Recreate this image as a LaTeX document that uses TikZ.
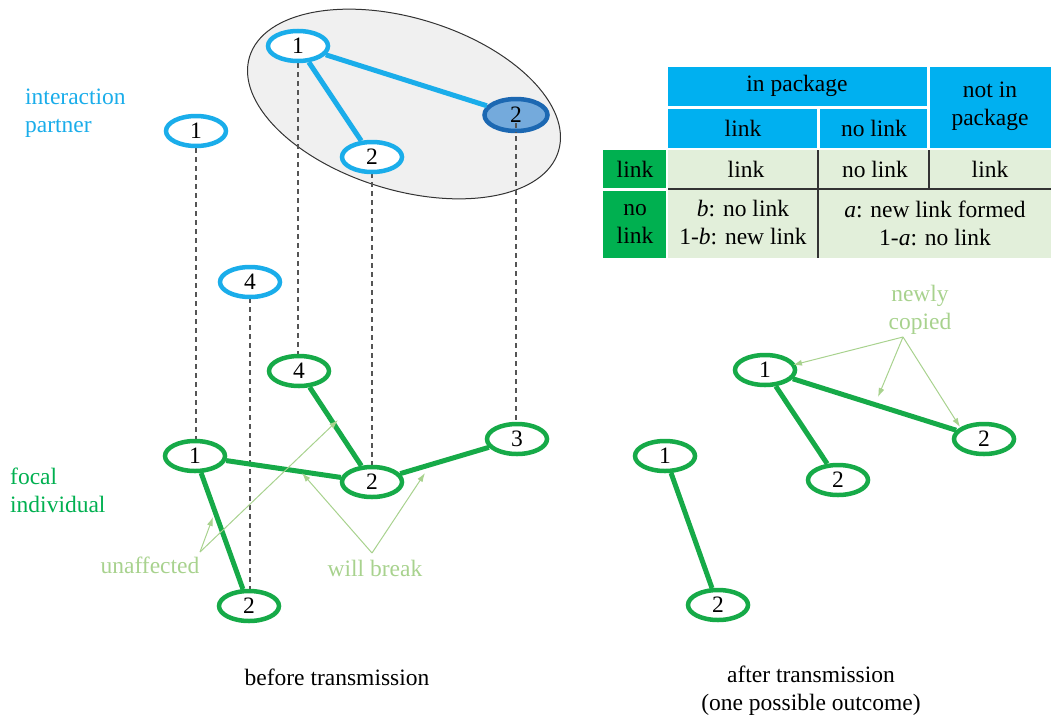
\documentclass[tikz,border=0pt]{standalone}
\usepackage{fontspec}
\setmainfont{Liberation Serif}
\usetikzlibrary{shapes.geometric,arrows.meta}
\definecolor{pblue}{RGB}{26,173,234}
\definecolor{dblue}{RGB}{28,104,178}
\definecolor{mblue}{RGB}{116,170,220}
\definecolor{hblue}{RGB}{0,176,240}
\definecolor{fgreen}{RGB}{22,170,72}
\definecolor{hgreen}{RGB}{0,176,80}
\definecolor{lgreen}{RGB}{168,210,142}
\definecolor{bodyg}{RGB}{226,239,218}
\definecolor{dgray}{RGB}{85,85,85}
\begin{document}
\begin{tikzpicture}[x=1pt,y=-1pt,
  every node/.style={font=\fontsize{23.5}{28}\selectfont},
  pnode/.style={ellipse,draw=pblue,line width=4.5pt,fill=white,minimum width=60pt,minimum height=30pt,inner sep=0pt},
  fnode/.style={ellipse,draw=fgreen,line width=4.5pt,fill=white,minimum width=60pt,minimum height=30pt,inner sep=0pt},
  pedge/.style={draw=pblue,line width=5pt},
  fedge/.style={draw=fgreen,line width=5pt},
  vdash/.style={draw=dgray,line width=1.4pt,dash pattern=on 5pt off 4pt},
  note/.style={draw=lgreen,line width=1pt,-{Latex[length=9pt,width=6pt]}},
  cell/.style={inner sep=0pt,align=center},
  tline/.style={draw=black!80,line width=1.4pt}]
\useasboundingbox (0,0) rectangle (1051,720);

% package ellipse
\node[ellipse,draw=black!80,line width=1pt,fill=black!6,minimum width=323pt,minimum height=172pt,rotate=-17,inner sep=0pt] (pkg) at (404,104) {};

% dashed vertical projections (drawn first)
\coordinate (d1a) at (196,148); \coordinate (d1b) at (196,440);
\coordinate (d4a) at (250,298); \coordinate (d4b) at (250,590);
\coordinate (dta) at (298,63); \coordinate (dtb) at (298,355);
\coordinate (dma) at (372,173); \coordinate (dmb) at (372,466);
\coordinate (dda) at (516,118); \coordinate (ddb) at (516,423);
\draw[vdash] (d1a) -- (d1b);
\draw[vdash] (d4a) -- (d4b);
\draw[vdash] (dta) -- (dtb);
\draw[vdash] (dma) -- (dmb);
\draw[vdash] (dda) -- (ddb);

% interaction partner nodes
\node[pnode] (p1) at (196,131) {1};
\node[pnode] (p4) at (250,282) {4};
\node[pnode] (pt1) at (298,46) {1};
\node[pnode] (pm2) at (372,157) {2};
\node[ellipse,draw=dblue,fill=mblue,line width=4.5pt,minimum width=63pt,minimum height=32pt,inner sep=0pt] (pd2) at (516,115) {2};
\draw[pedge] (pt1) -- (pm2);
\draw[pedge] (pt1) -- (pd2);
\coordinate (ddi) at (516,123); \coordinate (ddo) at (516,133);
\draw[vdash] (ddi) -- (ddo);

% focal individual nodes
\node[fnode] (f4) at (299,371) {4};
\node[fnode] (f1) at (195,456) {1};
\node[fnode] (f2) at (372,482) {2};
\node[fnode] (f3) at (517,439) {3};
\node[fnode] (f2b) at (249,606) {2};
\draw[fedge] (f4) -- (f2);
\draw[fedge] (f1) -- (f2);
\draw[fedge] (f2) -- (f3);
\draw[fedge] (f1) -- (f2b);

% after transmission
\node[fnode] (a1) at (765,370) {1};
\node[fnode] (a2) at (838,480) {2};
\node[fnode] (a2r) at (984,439) {2};
\node[fnode] (b1) at (665,456) {1};
\node[fnode] (b2) at (718,605) {2};
\draw[fedge] (a1) -- (a2);
\draw[fedge] (a1) -- (a2r);
\draw[fedge] (b1) -- (b2);

% side labels
\node[anchor=west,align=left,text=pblue,inner sep=0pt] (lip) at (25,113) {interaction\\partner};
\node[anchor=west,align=left,text=hgreen,inner sep=0pt] (lfi) at (10,490) {focal\\individual};

% annotations
\node[text=lgreen,inner sep=0pt] (unaff) at (150,565) {unaffected};
\node[text=lgreen,inner sep=0pt] (wbreak) at (375,568) {will break};
\node[text=lgreen,align=center,inner sep=0pt] (newly) at (920,310) {newly\\copied};
\coordinate (ua) at (200,552);
\coordinate (wa) at (372,553);
\coordinate (na) at (903,337);
\coordinate (ut1) at (213,517);
\coordinate (ut2) at (338,420);
\coordinate (wt1) at (302,473);
\coordinate (wt2) at (425,473);
\coordinate (nt1) at (793,365);
\coordinate (nt2) at (878,397);
\coordinate (nt3) at (960,427);
\draw[note] (ua) -- (ut1);
\draw[note] (ua) -- (ut2);
\draw[note] (wa) -- (wt1);
\draw[note] (wa) -- (wt2);
\draw[note] (na) -- (nt1);
\draw[note] (na) -- (nt2);
\draw[note] (na) -- (nt3);

% captions
\node (cap1) at (337,677) {before transmission};
\node[align=center] (cap2) at (811,691) {after transmission\\(one possible outcome)};

% table
\fill[hblue] (668,67) rectangle (927,106);
\fill[hblue] (930,67) rectangle (1051,148);
\fill[hblue] (668,109) rectangle (817,148);
\fill[hblue] (820,109) rectangle (927,148);
\fill[hgreen] (603,150) rectangle (666,188);
\fill[hgreen] (603,191) rectangle (666,258);
\fill[bodyg] (668,150) rectangle (1051,258);
\draw[tline] (818,150) -- (818,258);
\draw[tline] (929,150) -- (929,188);
\draw[tline] (668,189) -- (1051,189);

\node[cell] (tinp) at (797,86) {in package};
\node[cell] (tnip) at (990,106) {not in\\package};
\node[cell] (thl) at (743,128) {link};
\node[cell] (thn) at (874,128) {no link};
\node[cell] (trl) at (635,169) {link};
\node[cell] (trn) at (635,224) {no\\link};
\node[cell] (c11) at (746,169) {link};
\node[cell] (c12) at (875,169) {no link};
\node[cell] (c13) at (990,169) {link};
\node[cell] (c21) at (743,223) {\textit{b}: no link\\1-\textit{b}: new link};
\node[cell] (c22) at (935,223) {\textit{a}: new link formed\\1-\textit{a}: no link};
\end{tikzpicture}
\end{document}
